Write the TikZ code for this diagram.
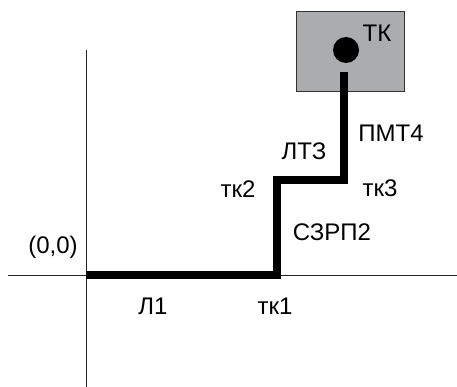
\documentclass[tikz,border=0pt]{standalone}
\usepackage{fontspec}
\setmainfont{Liberation Sans}
\definecolor{boxgray}{RGB}{170,172,174}
\begin{document}
\begin{tikzpicture}[x=1pt,y=-1pt,
  axis/.style={draw=black!85,line width=1pt},
  pipe/.style={draw=black,line width=8pt,line join=miter},
  lbl/.style={font=\fontsize{24}{28}\selectfont,inner sep=0pt}]
\useasboundingbox (0,0) rectangle (457,387);
% box
\node[draw=black!80,fill=boxgray,line width=1pt,minimum width=108,minimum height=80,inner sep=0pt] (box) at (350,52) {};
% axes
\coordinate (xl) at (8,275);
\coordinate (xr) at (457,275);
\coordinate (yt) at (86,50);
\coordinate (yb) at (86,387);
\draw[axis] (xl) -- (xr);
\draw[axis] (yt) -- (yb);
% points
\coordinate (o) at (86,275);
\coordinate (t1) at (277,275);
\coordinate (t2) at (277,180);
\coordinate (t3) at (344,180);
\coordinate (t4) at (344,72);
\draw[pipe] (o) -- (t1) -- (t2) -- (t3) -- (t4);
\node[circle,fill=black,minimum size=26,inner sep=0pt] (tk) at (346,50) {};
% labels
\node[lbl] (lbtk) at (377,33) {ТК};
\node[lbl] (lbo) at (53,247) {(0,0)};
\node[lbl] (lbl1) at (153,306) {Л1};
\node[lbl] (lbtk1) at (275,306) {тк1};
\node[lbl] (lbtk2) at (238,189) {тк2};
\node[lbl] (lbszrp) at (332,232) {СЗРП2};
\node[lbl] (lblt) at (304,151) {ЛТЗ};
\node[lbl] (lbpmt) at (391,133) {ПМТ4};
\node[lbl] (lbtk3) at (380,188) {тк3};
\end{tikzpicture}
\end{document}
